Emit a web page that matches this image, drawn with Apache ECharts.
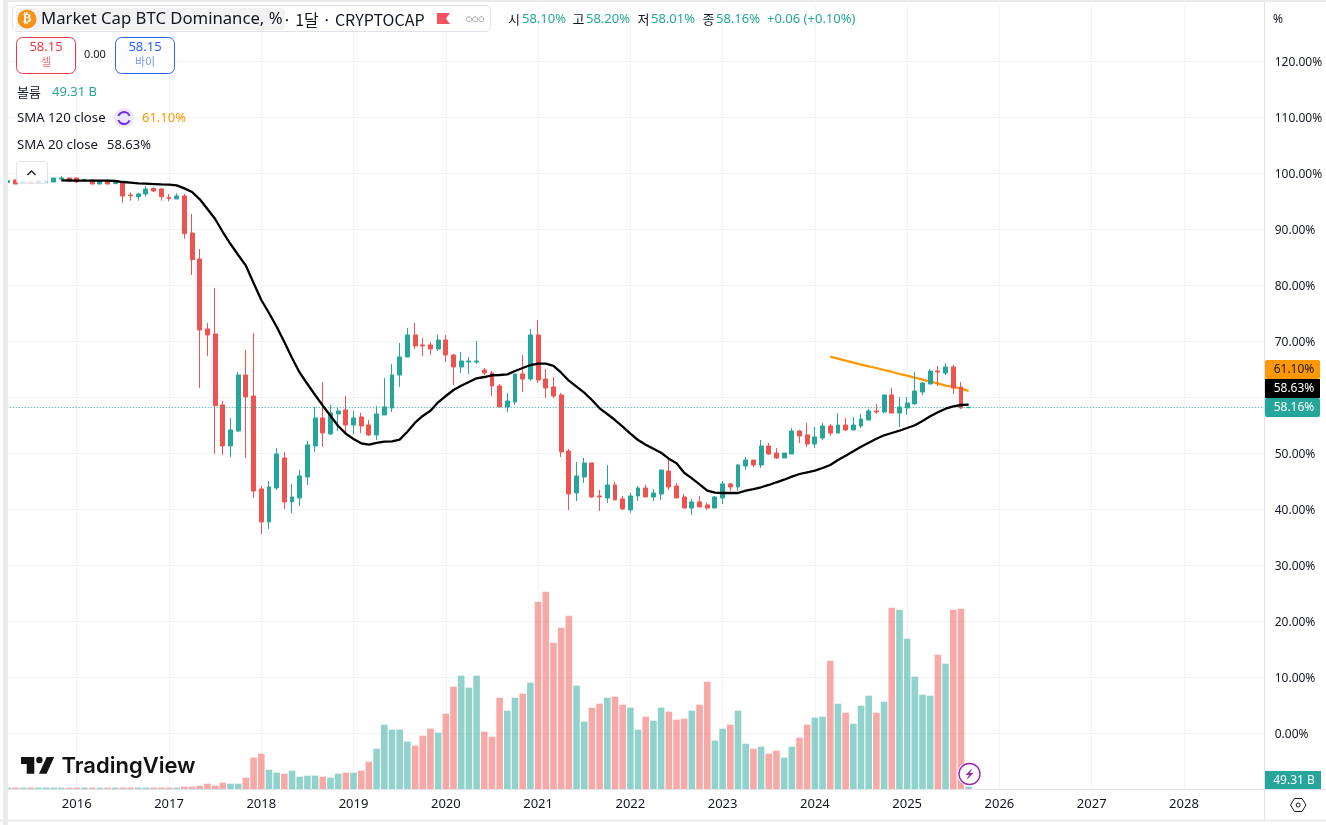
<!DOCTYPE html>
<html lang="ko">
<head>
<meta charset="utf-8">
<title>Market Cap BTC Dominance</title>
<style>html,body{margin:0;padding:0;background:#fff}#chart{width:1326px;height:825px}</style>
<script src="https://cdn.jsdelivr.net/npm/echarts@6/dist/echarts.min.js"></script>
</head>
<body>
<div id="chart"></div>
<script>
// First month of the series and the number of months on the axis
const startYear = 2015, startMonth = 4, monthsOnAxis = 164;

// Monthly candles: [open, close, low, high]
const candles = [
[98.33,98.63,98.27,98.75],[98.75,98.03,98.03,98.87],[98.15,98.45,98.09,98.51],[98.45,98.15,98.09,98.51],[98.15,98.57,98.09,98.63],[98.27,98.57,98.15,98.75],[98.39,99.11,98.39,99.11],[98.93,99.11,98.63,99.46],[99.11,98.75,98.63,99.23],
[99.11,98.39,98.27,99.23],[98.63,98.81,98.45,98.99],[98.75,98.03,98.03,98.87],[98.03,98.51,98.03,98.75],[98.57,98.03,98.03,98.87],[98.09,98.27,98.03,98.63],[98.27,95.89,94.70,98.39],[96.07,95.95,95.06,96.55],[95.77,96.25,95.06,96.49],[96.25,97.14,95.77,97.68],[97.26,96.78,96.61,97.44],[97.14,95.77,95.06,97.32],
[95.65,95.42,94.94,96.25],[95.36,95.89,95.36,96.37],[95.89,89.17,88.27,96.25],[89.28,84.52,81.79,92.68],[84.65,71.97,61.61,86.43],[72.15,71.08,67.33,73.22],[71.26,58.46,49.83,79.47],[58.58,51.26,49.65,59.29],[51.26,54.11,49.29,56.26],[53.93,63.93,53.76,64.47],[63.93,60.01,49.11,68.40],[60.18,43.22,41.97,71.43],
[43.58,37.69,35.54,44.11],[37.69,43.94,36.44,45.01],[43.76,49.83,43.40,50.90],[49.11,41.26,40.01,50.19],[41.26,42.15,39.29,44.47],[41.97,45.90,40.54,46.97],[45.72,51.44,44.29,52.15],[51.26,56.26,50.19,58.22],[56.26,53.58,51.08,62.68],[53.40,57.15,53.22,58.58],[56.97,57.51,53.93,58.04],[57.69,55.01,53.40,60.18],
[55.01,56.26,53.40,57.51],[56.43,54.83,53.58,57.15],[55.01,53.22,53.04,55.90],[53.22,56.97,52.33,58.40],[56.79,58.22,56.79,63.40],[58.04,63.93,57.33,65.90],[63.93,67.15,61.79,69.65],[67.15,71.08,67.15,72.33],[71.08,69.11,68.58,73.22],[69.29,69.11,67.33,70.54],[69.29,68.58,67.51,69.83],[68.58,70.18,68.22,71.08],
[70.18,67.51,66.26,71.08],[67.50,65.36,62.15,67.68],[65.36,66.43,64.29,68.04],[66.25,66.43,64.11,67.15],[66.25,66.43,65.90,70.00],[64.83,64.29,63.93,65.18],[64.29,61.97,60.18,64.65],[61.97,58.22,58.22,62.33],[58.22,59.29,57.33,60.72],[59.11,64.11,58.58,64.11],[64.11,63.22,60.90,67.50],[63.22,71.08,62.86,72.15],
[71.08,63.04,62.50,73.75],[63.22,61.61,59.83,65.00],[61.79,60.18,59.83,63.58],[60.36,50.18,49.29,60.72],[50.36,42.68,39.83,50.72],[42.86,45.90,41.43,48.40],[45.72,48.22,44.65,49.11],[48.22,42.15,41.97,48.22],[42.33,42.15,39.65,43.40],[41.97,44.29,41.08,47.86],[44.29,41.61,41.61,44.83],[41.79,40.01,39.83,42.33],
[39.83,42.33,39.29,42.86],[42.33,43.76,41.43,44.11],[43.76,42.15,42.15,44.29],[42.15,42.86,41.43,43.58],[42.68,46.97,41.61,46.97],[46.79,43.93,43.40,48.76],[44.11,41.97,41.97,44.65],[42.15,40.18,40.18,42.68],[40.18,41.26,38.94,41.79],[41.26,40.36,40.36,42.33],[40.72,40.18,39.83,41.08],[40.18,42.15,40.18,42.33],
[41.97,44.47,40.90,45.00],[44.47,43.93,43.22,44.65],[43.93,47.86,43.22,48.04],[47.68,48.75,46.97,49.29],[48.75,47.86,47.50,48.75],[47.86,51.25,47.32,52.32],[51.25,49.82,49.65,51.79],[50.00,49.11,48.93,50.90],[49.11,50.00,49.11,50.00],[49.82,53.93,49.82,54.47],[53.93,53.04,51.79,54.11],[53.22,51.61,51.07,55.36],
[51.61,52.86,50.90,54.65],[52.68,54.82,52.32,55.36],[54.82,53.57,53.04,55.18],[53.57,55.00,53.57,57.14],[55.00,54.11,53.93,56.25],[54.11,55.00,54.11,56.43],[54.82,56.07,54.47,56.97],[55.89,57.50,55.89,57.86],[57.50,57.32,56.97,58.75],[57.32,60.36,57.14,60.36],[60.36,57.14,57.14,61.61],[57.14,58.22,54.65,60.00],
[58.04,58.93,56.79,60.00],[58.75,61.07,58.75,64.47],[60.89,62.50,60.36,62.68],[62.32,64.64,62.32,65.00],[64.64,64.47,61.97,65.54],[64.29,65.36,63.93,66.07],[65.36,61.61,60.54,65.72],[61.79,58.04,57.86,62.68],[58.10,58.16,58.01,58.20]
];

// Monthly volume, in billions
const volumes = [
28,28,28,28,28,28,28,28,28,
28,28,28,28,28,28,28,28,28,28,28,28,
28,28,49,49,70,112,70,133,112,112,238,658,
742,406,343,322,385,259,280,280,259,238,322,343,
343,385,574,847,1351,1246,1246,994,910,1120,1267,1183,
1582,2149,2380,2128,2380,1204,1099,1918,1645,1918,2002,2233,
3934,4144,3073,3388,3640,2170,1414,1708,1792,1918,1939,1771,
1708,1246,1519,1435,1708,1624,1456,1477,1645,1771,2254,1015,
1267,1351,1645,952,847,889,742,805,658,889,1078,1351,
1498,1519,2695,1792,1603,1372,1750,1960,1603,1834,3808,3766,
3157,2359,1981,1960,2821,2632,3766,3787,49.31
];

// SMA 20 readings, beginning 2015-11
const sma20Start = 7;
const sma20 = [
98.69,98.66,
98.63,98.63,98.63,98.63,98.63,98.57,98.39,98.27,98.15,98.09,98.03,97.97,
97.92,97.80,97.26,96.61,95.30,93.57,91.79,89.46,87.32,85.36,83.45,80.36,
77.32,75.00,72.55,69.82,66.96,64.34,62.32,60.36,58.45,56.66,54.82,53.45,
52.50,51.73,51.48,51.79,52.02,52.09,52.38,53.80,55.41,56.61,57.55,59.05,
60.18,61.25,62.02,62.68,63.34,63.57,63.88,63.93,64.05,64.64,65.18,65.71,
65.95,65.95,65.54,64.34,62.91,61.84,60.77,59.46,57.98,56.96,55.89,54.70,
53.45,52.32,51.48,50.77,50.05,48.98,48.16,46.48,45.48,44.41,43.27,42.91,
42.86,42.86,42.86,43.27,43.57,43.88,44.29,44.77,45.23,45.77,46.25,46.55,
46.84,47.32,47.86,48.75,49.52,50.30,51.13,51.84,52.55,53.16,53.57,53.98,
54.46,54.95,55.71,56.55,57.27,57.91,58.34,58.57,58.63
];

// SMA 120 readings, beginning 2024-03
const sma120Start = 107;
const sma120 = [67.20,66.85,66.49,66.13,65.78,65.48,65.18,64.82,64.52,64.11,63.81,63.45,63.10,62.74,62.44,62.03,61.79,61.49,61.10];

const lastClose = 58.16;
const UP = '#26a69a', DOWN = '#ef5350';
const UP_VOL = 'rgba(38,166,154,0.5)', DOWN_VOL = 'rgba(239,83,80,0.5)';
const GRID = '#f3f3f5', AXIS = '#e0e3eb', INK = '#131722';
const FF = '"Noto Sans","Noto Sans CJK KR",sans-serif';
const KFF = '"Noto Sans CJK KR","Noto Sans",sans-serif';

const categories = [];
for (let i = 0; i < monthsOnAxis; i++) {
  const m = startMonth - 1 + i;
  categories.push((startYear + Math.floor(m / 12)) + '-' + String(m % 12 + 1).padStart(2, '0'));
}
const isYearStart = (i) => categories[i].endsWith('-01');
const pad = (start, arr) => new Array(start).fill(null).concat(arr);

function T(text, x, y, fill, size, extra) {
  return Object.assign({
    type: 'text', z: 200, silent: true,
    style: Object.assign({text, x, y, fill, font: size + 'px ' + FF, textVerticalAlign: 'middle', textAlign: 'left'}, extra || {})
  });
}
function R(x, y, w, h, fill, stroke, r, z) {
  return {type: 'rect', z: z || 190, silent: true, shape: {x, y, width: w, height: h, r: r || 0},
    style: {fill: fill || 'none', stroke: stroke || 'none', lineWidth: 1}};
}
function L(x1, y1, x2, y2, c) {
  return {type: 'line', z: 180, silent: true, shape: {x1, y1, x2, y2}, style: {stroke: c, lineWidth: 1}};
}

const graphics = [
  // page frame
  R(3, 0, 5, 825, '#ebebeb', null, 0, 300),
  R(0, 0, 3, 825, '#ffffff', null, 0, 299),
  R(0, 819.5, 1326, 2, '#ebebeb', null, 0, 300),
  R(0, 822, 1326, 3, '#ffffff', null, 0, 299),
  R(3, 0, 1323, 2, '#ebebeb', null, 0, 300),
  L(1264.5, 0, 1264.5, 820, AXIS),
  L(8, 789.5, 1326, 789.5, AXIS),

  // title bar
  R(12.5, 5.5, 478, 26, '#ffffff', '#e0e3eb', 5),
  R(16, 8, 269, 22, '#f2f2f3', null, 4, 191),
  {type: 'circle', z: 200, silent: true, shape: {cx: 27, cy: 19, r: 9.5}, style: {fill: '#f7931a'}},
  T('₿', 27, 19, '#ffffff', 'bold 13', {textAlign: 'center', font: 'bold 13px "DejaVu Sans"'}),
  T('Market Cap BTC Dominance, %', 41, 19.5, INK, 16.7),
  T(' · 1달 · CRYPTOCAP', 279, 19.5, INK, 16, {font: '16px ' + KFF}),
  {type: 'polygon', z: 200, silent: true, shape: {points: [[437, 13], [450, 13], [446, 18.5], [450, 24], [437, 24]]}, style: {fill: '#f7525f'}},
  T('○○○', 466, 19, '#363a45', 7, {font: '7px "DejaVu Sans"'}),

  // OHLC header
  T('시', 508, 19.5, INK, 13, {font: '13px ' + KFF}),
  T('58.10%', 522, 19.5, UP, 13),
  T('고', 572.5, 19.5, INK, 13, {font: '13px ' + KFF}),
  T('58.20%', 586, 19.5, UP, 13),
  T('저', 637.5, 19.5, INK, 13, {font: '13px ' + KFF}),
  T('58.01%', 651, 19.5, UP, 13),
  T('종', 702.5, 19.5, INK, 13, {font: '13px ' + KFF}),
  T('58.16%', 716, 19.5, UP, 13),
  T('+0.06 (+0.10%)', 767, 19.5, UP, 13),

  // sell / buy
  R(16.5, 37.5, 59, 36, '#ffffff', '#f23645', 6),
  T('58.15', 46, 47, '#f23645', 13, {textAlign: 'center'}),
  T('셀', 46, 62, '#f7707c', 11, {textAlign: 'center', font: '11px ' + KFF}),
  T('0.00', 95, 55, INK, 11, {textAlign: 'center'}),
  R(115.5, 37.5, 59, 36, '#ffffff', '#2962ff', 6),
  T('58.15', 145, 47, '#2962ff', 13, {textAlign: 'center'}),
  T('바이', 145, 62, '#7095fb', 11, {textAlign: 'center', font: '11px ' + KFF}),

  // indicator legend
  T('볼륨', 17, 92.5, INK, 13, {font: '13px ' + KFF}),
  T('49.31 B', 52, 92.5, UP, 13),
  T('SMA 120 close', 17, 118.5, INK, 13.2),
  {type: 'circle', z: 200, silent: true, shape: {cx: 124, cy: 118, r: 10}, style: {fill: '#ede7fb'}},
  {type: 'arc', z: 201, silent: true, shape: {cx: 124, cy: 118, r: 6, startAngle: 3.5, endAngle: 5.9}, style: {fill: 'none', stroke: '#6a2ff0', lineWidth: 2}},
  {type: 'arc', z: 201, silent: true, shape: {cx: 124, cy: 118, r: 6, startAngle: 0.4, endAngle: 2.8}, style: {fill: 'none', stroke: '#6a2ff0', lineWidth: 2}},
  T('61.10%', 142, 118.5, '#ff9800', 13),
  T('SMA 20 close', 17, 145.5, INK, 13.2),
  T('58.63%', 107, 145.5, INK, 13),

  // collapse button
  {type: 'rect', z: 200, silent: true, shape: {x: 16.5, y: 161.5, width: 31, height: 22, r: 3}, style: {fill: 'rgba(255,255,255,0.8)', stroke: '#e0e3eb', lineWidth: 1}},
  {type: 'polyline', z: 201, silent: true, shape: {points: [[27.5, 175], [31.5, 171], [35.5, 175]]}, style: {fill: 'none', stroke: INK, lineWidth: 1.3}},

  // TradingView mark
  {type: 'polygon', z: 200, silent: true, shape: {points: [[21, 757], [34.3, 757], [34.3, 773.7], [26.7, 773.7], [26.7, 764], [21, 764]]}, style: {fill: '#131313'}},
  {type: 'circle', z: 200, silent: true, shape: {cx: 39.4, cy: 760, r: 3.2}, style: {fill: '#131313'}},
  {type: 'polygon', z: 200, silent: true, shape: {points: [[46.7, 757], [54.2, 757], [46.6, 773.7], [39, 773.7]]}, style: {fill: '#131313'}},
  T('TradingView', 61.5, 766, '#131313', 22, {font: '600 22px Inter'}),

  // price scale
  T('%', 1273, 19.5, INK, 12),
  R(1265, 360, 55, 19, '#ff9800', null, 2),
  T('61.10%', 1294, 370, INK, 12, {textAlign: 'center'}),
  R(1265, 379, 55, 19, '#000000'),
  T('58.63%', 1294, 389, '#ffffff', 12, {textAlign: 'center'}),
  R(1265, 398, 55, 19, UP, null, 2),
  T('58.16%', 1294, 408, '#ffffff', 12, {textAlign: 'center'}),
  R(1265, 771, 56, 18, UP),
  T('49.31 B', 1294, 780.5, '#ffffff', 12, {textAlign: 'center'}),

  // settings hex
  {type: 'polygon', z: 200, silent: true, shape: {points: [[1290.5, 805], [1294.5, 798.5], [1302, 798.5], [1306, 805], [1302, 811.5], [1294.5, 811.5]]}, style: {fill: 'none', stroke: INK, lineWidth: 1}},
  {type: 'circle', z: 200, silent: true, shape: {cx: 1298.2, cy: 805, r: 2}, style: {fill: 'none', stroke: INK, lineWidth: 1}},

  // event marker
  {type: 'circle', z: 200, silent: true, shape: {cx: 969.5, cy: 774, r: 12}, style: {fill: '#ffffff'}},
  {type: 'circle', z: 201, silent: true, shape: {cx: 969.5, cy: 774, r: 10.5}, style: {fill: '#ffffff', stroke: '#9c27b0', lineWidth: 1.4}},
  {type: 'polygon', z: 202, silent: true, shape: {points: [[972.5, 768], [965.5, 775], [969, 775], [966.5, 780], [973.5, 773], [970, 773]]}, style: {fill: '#9c27b0'}}
];

const option = {
  animation: false,
  backgroundColor: '#ffffff',
  graphic: {elements: graphics},
  grid: {left: 3.7, top: 5, width: 1261, height: 784, containLabel: false},
  xAxis: {
    type: 'category',
    data: categories,
    boundaryGap: true,
    axisLine: {show: false},
    axisTick: {show: false},
    axisLabel: {
      interval: (i) => isYearStart(i),
      formatter: (v) => v.slice(0, 4),
      color: INK, fontSize: 13, fontFamily: FF, margin: 9
    },
    splitLine: {show: true, alignWithLabel: true, interval: (i) => isYearStart(i), lineStyle: {color: GRID, width: 1}}
  },
  yAxis: [{
    type: 'value', position: 'right', min: -10, max: 130, interval: 10,
    axisLine: {show: false},
    axisTick: {show: false},
    axisLabel: {
      showMinLabel: false, showMaxLabel: false,
      formatter: (v) => '{a|' + v.toFixed(2) + '%}',
      margin: 10,
      rich: {a: {color: INK, fontSize: 12, fontFamily: FF, padding: [3, 0, 0, 0]}}
    },
    splitLine: {show: true, showMinLine: false, showMaxLine: false, lineStyle: {color: GRID, width: 1}}
  }, {
    type: 'value', min: 0, max: 16464, show: false, splitLine: {show: false}
  }],
  series: [{
    name: 'Volume', type: 'bar', yAxisIndex: 1, z: 1, barWidth: 6.6,
    data: volumes.map((v, i) => ({
      value: v,
      itemStyle: {color: candles[i][1] >= candles[i][0] ? UP_VOL : DOWN_VOL}
    }))
  }, {
    name: 'SMA 120', type: 'line', z: 2, symbol: 'none', smooth: false,
    data: pad(sma120Start, sma120),
    lineStyle: {color: '#ff9800', width: 2.2}
  }, {
    name: 'Candles', type: 'candlestick', z: 3, barWidth: 4.4,
    data: candles,
    itemStyle: {color: UP, color0: DOWN, borderColor: UP, borderColor0: DOWN, borderWidth: 1},
    markLine: {
      silent: true, symbol: 'none', animation: false, z: 4,
      label: {show: false},
      data: [{yAxis: lastClose}],
      lineStyle: {color: UP, type: [1, 2], width: 1}
    }
  }, {
    name: 'SMA 20', type: 'line', z: 5, symbol: 'none', smooth: false,
    data: pad(sma20Start, sma20),
    lineStyle: {color: '#000000', width: 2.3}
  }]
};

const chart = echarts.init(document.getElementById('chart'), null, {renderer: 'canvas', width: 1326, height: 825});
chart.setOption(option);
</script>
</body>
</html>
